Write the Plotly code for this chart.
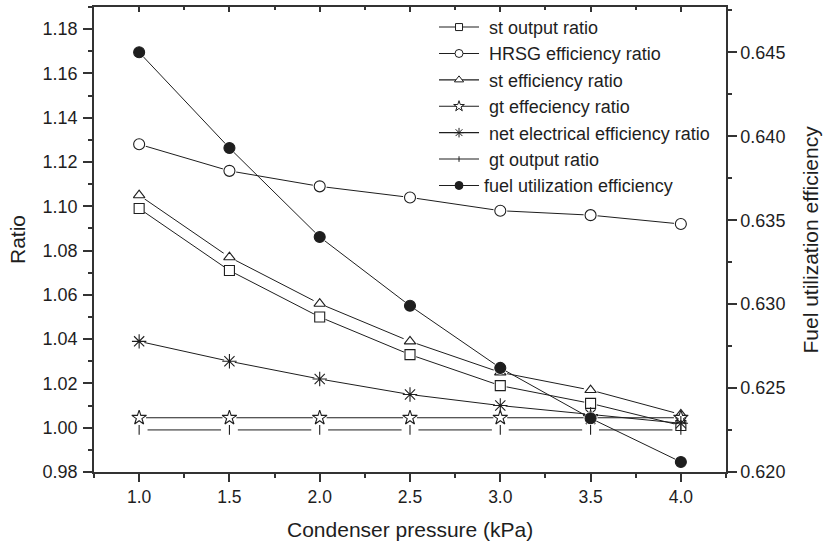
import plotly.graph_objects as go

# ---------------- data ----------------
pressure = [1.0, 1.5, 2.0, 2.5, 3.0, 3.5, 4.0]
st_output_ratio = [1.099, 1.071, 1.050, 1.033, 1.019, 1.011, 1.001]
hrsg_efficiency_ratio = [1.128, 1.116, 1.109, 1.104, 1.098, 1.096, 1.092]
st_efficiency_ratio = [1.105, 1.077, 1.056, 1.039, 1.025, 1.017, 1.006]
gt_efficiency_ratio = [1.0045, 1.0045, 1.0045, 1.0045, 1.0045, 1.0045, 1.0045]
net_electrical_efficiency_ratio = [1.039, 1.030, 1.022, 1.015, 1.010, 1.006, 1.002]
gt_output_ratio = [0.999, 0.999, 0.999, 0.999, 0.999, 0.999, 0.999]
fuel_utilization_efficiency = [0.6450, 0.6393, 0.6340, 0.6299, 0.6262, 0.6232, 0.6206]

series_names = ["st output ratio", "HRSG efficiency ratio", "st efficiency ratio",
                "gt effeciency ratio", "net electrical efficiency ratio",
                "gt output ratio", "fuel utilization efficiency"]

x_title = "Condenser pressure (kPa)"
y_title = "Ratio"
y2_title = "Fuel utilization efficiency"

INK = "#1e1e1e"
AXC = "#333333"
FONT = "Liberation Sans, Arial, Helvetica, sans-serif"
NB = "\u00a0"

# name, values, symbol, size, fill, halo size, axis, legend size, legend prefix
specs = [
    (series_names[0], st_output_ratio, "square", 10, "white", 13, "y", 7, NB),
    (series_names[1], hrsg_efficiency_ratio, "circle", 11, "white", 14, "y", 8, NB),
    (series_names[2], st_efficiency_ratio, "triangle-up", 10, "white", 14, "y", 8, NB),
    (series_names[3], gt_efficiency_ratio, "star", 11, "white", 14, "y", 8, NB),
    (series_names[4], net_electrical_efficiency_ratio, "asterisk-open", 12, INK, 11, "y", 8, NB),
    (series_names[5], gt_output_ratio, "line-ns-open", 7, INK, 17, "y", 4, NB),
    (series_names[6], fuel_utilization_efficiency, "circle", 11, INK, 13, "y2", 8, ""),
]

fig = go.Figure()

for axis in ["y", "y2"]:
    group = [s for s in specs if s[6] == axis]
    # connecting lines
    for name, vals, sym, size, fill, halo, ax, lsz, pre in group:
        fig.add_trace(go.Scatter(x=pressure, y=vals, yaxis=ax, mode="lines",
                                 line=dict(color=INK, width=1), showlegend=False,
                                 hoverinfo="skip"))
    # white halos (small gaps between lines and markers)
    for name, vals, sym, size, fill, halo, ax, lsz, pre in group:
        fig.add_trace(go.Scatter(x=pressure, y=vals, yaxis=ax, mode="markers",
                                 marker=dict(symbol="circle", size=halo, color="white",
                                             line=dict(width=0)),
                                 showlegend=False, hoverinfo="skip"))
    # markers
    for name, vals, sym, size, fill, halo, ax, lsz, pre in group:
        fig.add_trace(go.Scatter(x=pressure, y=vals, yaxis=ax, mode="markers", name=name,
                                 marker=dict(symbol=sym, size=size, color=fill,
                                             line=dict(color=INK, width=1.1)),
                                 showlegend=False))

# legend entries
for name, vals, sym, size, fill, halo, ax, lsz, pre in specs:
    fig.add_trace(go.Scatter(x=[None], y=[None], xaxis="x2", yaxis="y", mode="lines+markers",
                             name=pre + name,
                             line=dict(color=INK, width=1.1),
                             marker=dict(symbol=sym, size=lsz, color=fill,
                                         line=dict(color=INK, width=1)),
                             showlegend=True))

axis_common = dict(showline=True, linecolor=AXC, linewidth=1.5, showgrid=False,
                   zeroline=False, tickcolor=AXC, tickwidth=1.5)

fig.update_layout(
    width=824, height=546,
    margin=dict(l=94, r=98, t=7, b=74),
    paper_bgcolor="white", plot_bgcolor="white",
    font=dict(family=FONT, color=INK),
    xaxis=dict(range=[0.75, 4.25], tick0=1.0, dtick=0.5, tickformat=".1f",
               ticks="outside", ticklen=8, ticklabelstandoff=0,
               tickfont=dict(size=17.5, color=INK, family=FONT),
               minor=dict(dtick=0.25, tick0=0.75, ticks="outside", ticklen=4,
                          tickcolor=AXC, tickwidth=1.5),
               **axis_common),
    xaxis2=dict(range=[0.75, 4.25], overlaying="x", side="top", anchor="y",
                tick0=1.0, dtick=0.5, ticks="inside", ticklen=5, showticklabels=False,
                minor=dict(dtick=0.25, tick0=0.75, ticks="inside", ticklen=3,
                           tickcolor=AXC, tickwidth=1.5),
                **axis_common),
    yaxis=dict(range=[0.98, 1.19], tick0=0.98, dtick=0.02, tickformat=".2f",
               ticks="outside", ticklen=9, ticklabelstandoff=2,
               tickfont=dict(size=18, color=INK, family=FONT),
               minor=dict(dtick=0.01, tick0=0.98, ticks="outside", ticklen=4,
                          tickcolor=AXC, tickwidth=1.5),
               **axis_common),
    yaxis2=dict(range=[0.62, 0.6477], overlaying="y", side="right", anchor="x",
                tick0=0.62, dtick=0.005, tickformat=".3f",
                ticks="outside", ticklen=9, ticklabelstandoff=0,
                tickfont=dict(size=18, color=INK, family=FONT),
                minor=dict(dtick=0.0025, tick0=0.62, ticks="outside", ticklen=4,
                           tickcolor=AXC, tickwidth=1.5),
                **axis_common),
    legend=dict(x=0.538, y=0.996, xanchor="left", yanchor="top",
                bgcolor="rgba(0,0,0,0)", borderwidth=0,
                font=dict(size=18, color=INK, family=FONT),
                itemwidth=40, tracegroupgap=0),
    annotations=[
        dict(text=x_title, xref="paper", yref="paper", x=0.5, y=-0.1247,
             xanchor="center", yanchor="middle", showarrow=False,
             font=dict(size=21, color=INK, family=FONT)),
        dict(text=y_title, xref="paper", yref="paper", x=-0.121, y=0.5,
             xanchor="center", yanchor="middle", textangle=-90, showarrow=False,
             font=dict(size=21, color=INK, family=FONT)),
        dict(text=y2_title, xref="paper", yref="paper", x=1.133, y=0.5,
             xanchor="center", yanchor="middle", textangle=-90, showarrow=False,
             font=dict(size=21, color=INK, family=FONT)),
    ],
)

fig.write_html("out.html",
               config={"displayModeBar": False},
               post_script="document.body.style.margin='0';document.body.style.overflow='hidden';")
